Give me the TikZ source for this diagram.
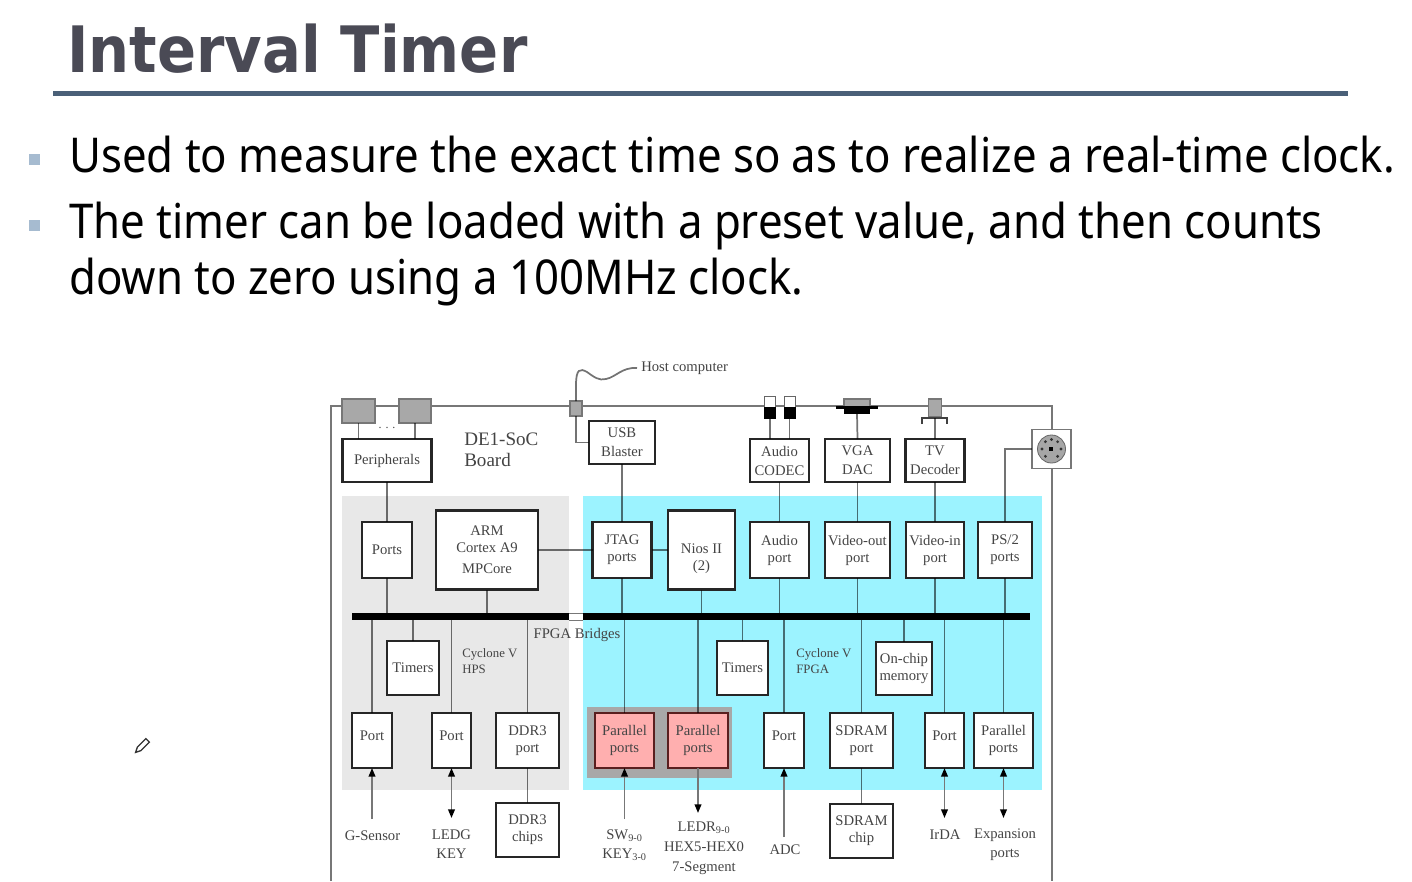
\documentclass[tikz,border=0pt]{standalone}
\usepackage{fontspec}
\setmainfont{Liberation Serif}
\newfontfamily\slidefont[FakeStretch=0.912]{Noto Sans}
\newfontfamily\titlefont[FakeStretch=0.9]{DejaVu Sans}
\usepackage{xcolor}
\definecolor{SlideTitle}{HTML}{4A4A55}
\definecolor{SlideRule}{HTML}{4A6078}
\definecolor{SlideBullet}{HTML}{A6BBD0}
\definecolor{BoardText}{HTML}{444444}
\definecolor{BoardLine}{HTML}{777777}
\definecolor{PanelGray}{HTML}{E8E8E8}
\definecolor{PanelCyan}{HTML}{9CF3FF}
\definecolor{PanelRed}{HTML}{FFAFAF}
\definecolor{PanelEdge}{HTML}{5A1F1F}
\definecolor{PanelMark}{HTML}{A8A8A8}
\usetikzlibrary{positioning,arrows.meta,calc}
\tikzset{
  sz/.style 2 args={minimum width=#1*0.75pt,minimum height=#2*0.75pt},
  dbox/.style={draw=black!85,fill=white,line width=1.8pt,inner sep=0pt,outer sep=0pt,align=center,text=BoardText,font=\fontsize{11}{12.75}\selectfont},
  dtall/.style={dbox,font=\fontsize{11}{14.25}\selectfont},
  dred/.style={dbox,draw=PanelEdge,fill=PanelRed},
  dhigh/.style={text depth=7.5pt},
  dtext/.style={inner sep=0pt,align=center,text=BoardText,font=\fontsize{11}{14.25}\selectfont},
  dsmall/.style={inner sep=0pt,align=left,anchor=west,text=BoardText,font=\fontsize{9.6}{12}\selectfont},
  dconn/.style={draw=BoardLine,fill=PanelMark,line width=0.9pt,inner sep=0pt,outer sep=0pt},
  dlink/.style={draw=black,opacity=0.55,line width=1.3pt},
  dflow/.style={draw=BoardLine,line width=1.3pt,-{Triangle[length=6.5pt,width=5pt,black]}},
  dboth/.style={draw=BoardLine,line width=1.3pt,{Triangle[length=6.5pt,width=5pt,black]}-{Triangle[length=6.5pt,width=5pt,black]}},
  dbus/.style={fill=black,inner sep=0pt,outer sep=0pt},
  slideline/.style={anchor=base west,inner sep=0pt,font=\slidefont\fontsize{36}{36}\selectfont},
  slidemark/.style={fill=SlideBullet,inner sep=0pt,minimum size=8.25pt}
}
\begin{document}
\begin{tikzpicture}[x=0.75pt,y=-0.75pt]
  \useasboundingbox (0,0) rectangle (1412,881);
  % slide head
  \node[anchor=base west,inner sep=0pt,text=SlideTitle,font=\titlefont\bfseries\fontsize{48}{48}\selectfont] (title) at (67,73) {Interval Timer};
  \fill[SlideRule] (53,91) rectangle (1348,96);
  \node[slidemark] (markA) at (34.5,159.5) {};
  \node[slidemark] (markB) at (34.5,225.5) {};
  \node[slideline] (lineA) at (69,172) {Used to measure the exact time so as to realize a real-time clock.};
  \node[slideline] (lineB) at (69,238) {The timer can be loaded with a preset value, and then counts};
  \node[slideline] (lineC) at (69,294) {down to zero using a 100MHz clock.};
  % pen cursor
  \draw[black!80,line width=1pt,fill=white,rotate around={-45:(142,746)}] (139.5,738) -- (144.5,738) -- (144.5,750) -- (142,755) -- (139.5,750) -- cycle;
  % panels
  \fill[PanelGray] (342,496) rectangle (569,790);
  \fill[PanelCyan] (583,496) rectangle (1042,790);
  \fill[PanelMark] (587,707) rectangle (732,778);
  % board outline
  \coordinate (boardL) at (331,881);
  \coordinate (boardR) at (1052,881);
  \draw[BoardLine,line width=1.3pt] (boardL) -- (331,406) -- (1052,406) -- (boardR);
  % bus
  \node[dbus,minimum width=217*0.75pt,minimum height=7*0.75pt] (busL) at (460.5,616.5) {};
  \node[dbus,minimum width=447*0.75pt,minimum height=7*0.75pt] (busR) at (806.5,616.5) {};
  \draw[BoardLine,line width=0.6pt] (busL.north east) -- (busR.north west);
  \draw[BoardLine,line width=0.6pt] (busL.south east) -- (busR.south west);
  % connectors on the board edge
  \node[dconn,sz={33}{24}] (sockA) at (358.5,411) {};
  \node[dconn,sz={32}{24}] (sockB) at (415,411) {};
  \node[text=BoardText,inner sep=0pt,font=\fontsize{9}{9}\selectfont] (dots) at (387,428) {. . .};
  \node[dconn,sz={12}{15}] (usbc) at (576,408.5) {};
  \node[draw=black!60,fill=white,line width=0.75pt,inner sep=0pt,outer sep=0pt,sz={11}{11}] (jackAt) at (770,401.5) {};
  \node[fill=black,inner sep=0pt,outer sep=0pt,sz={12}{12}] (jackA) at (770,413) {};
  \node[draw=black!60,fill=white,line width=0.75pt,inner sep=0pt,outer sep=0pt,sz={11}{11}] (jackBt) at (789.5,401.5) {};
  \node[fill=black,inner sep=0pt,outer sep=0pt,sz={12}{12}] (jackB) at (789.5,413) {};
  \node[dconn,sz={26}{8}] (vgaT) at (857,403) {};
  \node[fill=black,inner sep=0pt,outer sep=0pt,sz={42}{3}] (vgaM) at (857,407.5) {};
  \node[fill=black,inner sep=0pt,outer sep=0pt,sz={26}{5}] (vgaB) at (857,411.5) {};
  \node[dconn,sz={13}{18}] (tvc) at (935,408) {};
  \coordinate (tvb) at (935,418);
  \draw[black!75,line width=1.1pt] (922,424) |- (947,418) -- (947,424);
  \node[draw=BoardLine,fill=white,line width=0.9pt,inner sep=0pt,outer sep=0pt,sz={39}{39}] (psc) at (1051.5,449) {};
  \node[circle,draw=black!60,fill=black!35,line width=0.6pt,inner sep=0pt,minimum size=28*0.75pt] (psd) at (psc) {};
  \fill[black] (1049,447) rectangle (1053,451);
  \foreach \a in {0,50,130,180,230,270,310}
    \fill[black!80] ($(psd)+(\a:9.5)$) circle (1.2pt);
  % boxes, upper rows
  \node[dbox,sz={89}{43}] (peri) at (387,460.5) {Peripherals};
  \node[dtall,sz={66}{43}] (usb) at (622,442.5) {USB\\Blaster};
  \node[dtall,sz={59}{43}] (codec) at (779.5,460.5) {Audio\\CODEC};
  \node[dtall,sz={65}{43}] (dac) at (857.5,460.5) {VGA\\DAC};
  \node[dtall,sz={59}{43}] (tvd) at (935,460.5) {TV\\Decoder};
  \node[dbox,sz={50}{56}] (ports) at (387,550) {Ports};
  \node[dbox,sz={102}{79}] (arm) at (487,550) {ARM\\Cortex A9\\[3pt]MPCore};
  \node[dbox,sz={59}{56}] (jtag) at (622,550) {JTAG\\ports};
  \node[dbox,sz={67}{79}] (nios) at (701.5,550) {\rule{0pt}{20pt}Nios II\\(2)};
  \node[dbox,sz={59}{56}] (audp) at (779.5,550) {Audio\\port};
  \node[dbox,sz={65}{56}] (vidO) at (857.5,550) {Video-out\\port};
  \node[dbox,sz={58}{56}] (vidI) at (935,550) {Video-in\\port};
  \node[dbox,sz={54}{56}] (ps2) at (1005,550) {PS/2\\ports};
  % boxes, lower rows
  \node[dbox,sz={52}{54}] (timA) at (413,668) {Timers};
  \node[dbox,sz={51}{54}] (timB) at (742.5,668) {Timers};
  \node[dbox,sz={56}{53}] (chip) at (904,668.5) {On-chip\\memory};
  \node[dbox,dhigh,sz={40}{55}] (portA) at (372,740.5) {Port};
  \node[dbox,dhigh,sz={39}{55}] (portB) at (451.5,740.5) {Port};
  \node[dbox,sz={63}{55}] (ddrP) at (527.5,740.5) {DDR3\\port};
  \node[dred,sz={59}{55}] (parA) at (624.5,740.5) {Parallel\\ports};
  \node[dred,sz={60}{55}] (parB) at (698,740.5) {Parallel\\ports};
  \node[dbox,dhigh,sz={40}{55}] (portC) at (784,740.5) {Port};
  \node[dbox,sz={63}{55}] (sdrP) at (861.5,740.5) {SDRAM\\port};
  \node[dbox,dhigh,sz={39}{55}] (portD) at (944.5,740.5) {Port};
  \node[dbox,sz={59}{55}] (parC) at (1003.5,740.5) {Parallel\\ports};
  \node[dbox,sz={63}{54}] (ddrC) at (527.5,830) {DDR3\\chips};
  \node[dbox,sz={63}{54}] (sdrC) at (861.5,831) {SDRAM\\chip};
  % texts
  \node[inner sep=0pt,anchor=west,align=left,text=BoardText,font=\fontsize{14.3}{16}\selectfont] (board) at (464,449.5) {DE1-SoC\\Board};
  \node[dsmall] (hps) at (462,661) {Cyclone V\\HPS};
  \node[dsmall] (fpga) at (796,661) {Cyclone V\\FPGA};
  \node[dtext] (bridge) at (577,635) {FPGA Bridges};
  \node[dtext,anchor=west,font=\fontsize{11}{12}\selectfont] (host) at (641,368) {Host computer};
  \node[dtext] (gsen) at (372.5,835.5) {G-Sensor};
  \node[dtext] (ledg) at (451.5,844.5) {LEDG\\KEY};
  \node[dtext] (sw) at (624.5,845.5) {SW\textsubscript{9-0}\\KEY\textsubscript{3-0}};
  \node[dtext,font=\fontsize{11}{15}\selectfont] (ledr) at (704,848.5) {LEDR\textsubscript{9-0}\\HEX5-HEX0\\7-Segment};
  \node[dtext] (adc) at (785,850) {ADC};
  \node[dtext] (irda) at (945,834.5) {IrDA};
  \node[dtext] (expa) at (1005,845) {Expansion\\ports};
  % free arrow ends
  \coordinate (gsenE) at (372,819);
  \coordinate (ledgE) at (451.5,818);
  \coordinate (swE) at (624.5,819);
  \coordinate (ledrE) at (698,813);
  \coordinate (adcE) at (784,837);
  \coordinate (irdaE) at (944.5,818);
  \coordinate (expaE) at (1003.5,818);
  % links
  \draw[dlink] (sockA) -- (sockA |- peri.north);
  \draw[dlink] (sockB) -- (sockB |- peri.north);
  \draw[dlink] (jackA.south) -- (jackA.south |- codec.north);
  \draw[dlink] (jackB.south) -- (jackB.south |- codec.north);
  \draw[dlink] (vgaB.south) -- (dac.north);
  \draw[dlink] (tvb) -- (tvd.north);
  \draw[dlink] (usbc.south) |- (usb.west);
  \draw[dlink] (usbc.north) -- ++(0,-16) .. controls (576,369) and (580,368) .. (587,372) .. controls (594,377) and (599,381) .. (606,379) .. controls (616,377) and (622,367) .. ([xshift=-3]host.west);
  \draw[dlink] (psc.west) -| (ps2.north);
  \draw[dlink] (peri) -- (ports);
  \draw[dlink] (usb) -- (jtag);
  \draw[dlink] (codec) -- (audp);
  \draw[dlink] (dac) -- (vidO);
  \draw[dlink] (tvd) -- (vidI);
  \draw[dlink] (arm) -- (jtag);
  \draw[dlink] (jtag) -- (nios);
  \draw[dlink] (ddrP) -- (ddrC);
  \draw[dlink] (sdrP) -- (sdrC);
  \foreach \n in {ports,arm}
    \draw[dlink] (\n.south) -- (\n.south |- busL.north);
  \foreach \n in {jtag,nios,audp,vidO,vidI,ps2}
    \draw[dlink] (\n.south) -- (\n.south |- busR.north);
  \foreach \n in {timA,portA,portB,ddrP}
    \draw[dlink] (\n.north) -- (\n.north |- busL.south);
  \foreach \n in {parA,parB,timB,portC,sdrP,chip,portD,parC}
    \draw[dlink] (\n.north) -- (\n.north |- busR.south);
  \draw[dflow] (gsenE) -- (portA.south);
  \draw[dboth] (ledgE) -- (portB.south);
  \draw[dflow] (swE) -- (parA.south);
  \draw[dflow] (parB.south) -- (ledrE);
  \draw[dflow] (adcE) -- (portC.south);
  \draw[dboth] (irdaE) -- (portD.south);
  \draw[dboth] (expaE) -- (parC.south);
\end{tikzpicture}
\end{document}
